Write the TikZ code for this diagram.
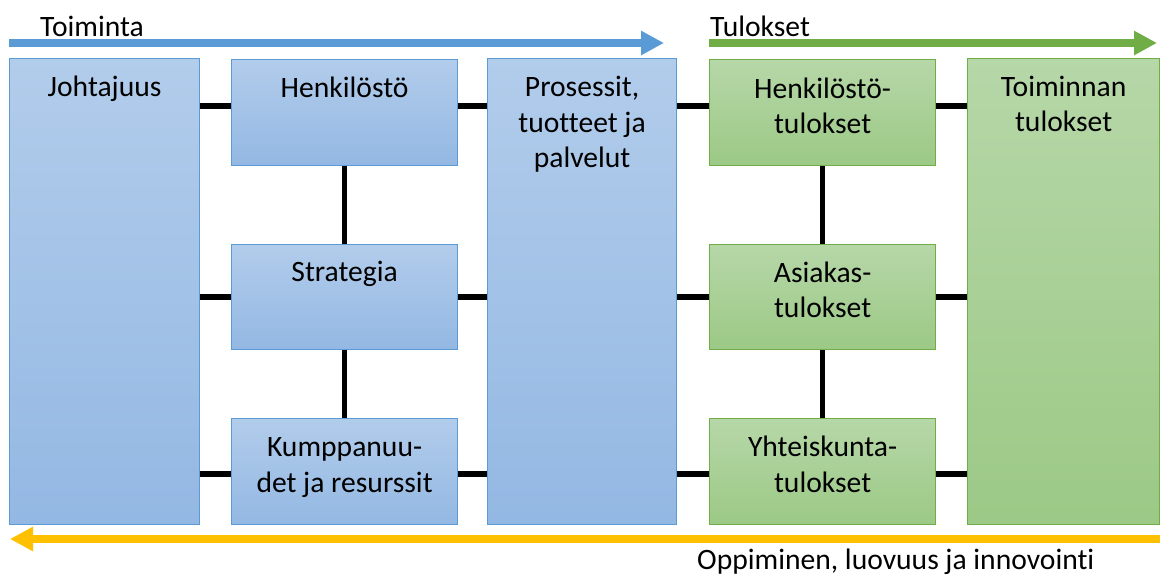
\documentclass[tikz,border=0pt]{standalone}
\usepackage{fontspec}
\setmainfont{Carlito}[Ligatures=CommonOff]
\usetikzlibrary{arrows.meta}
\definecolor{blueTop}{RGB}{178,204,235}
\definecolor{blueBot}{RGB}{147,184,227}
\definecolor{blueLine}{RGB}{91,155,213}
\definecolor{greenTop}{RGB}{182,215,168}
\definecolor{greenBot}{RGB}{156,201,134}
\definecolor{greenLine}{RGB}{112,173,71}
\definecolor{flowOrange}{RGB}{255,192,0}
\begin{document}
\begin{tikzpicture}[x=1pt,y=-1pt,
    bbox/.style={draw=blueLine,line width=1.2pt,top color=blueTop,bottom color=blueBot,anchor=north west,inner sep=0pt},
    gbox/.style={draw=greenLine,line width=1.2pt,top color=greenTop,bottom color=greenBot,anchor=north west,inner sep=0pt},
    lbl/.style={font=\fontsize{29.6}{35.5}\selectfont,align=center,anchor=base,inner sep=0pt},
    link/.style={line width=5.5pt,black},
    flow/.style={line width=8pt,-{Triangle[length=23pt,width=23pt]}}]
  \useasboundingbox (0,0) rectangle (1160,577);
  % arrows
  \coordinate (toiS) at (9,43);   \coordinate (toiE) at (664,43);
  \coordinate (tulS) at (709,43); \coordinate (tulE) at (1157,43);
  \coordinate (oppS) at (1162,539); \coordinate (oppE) at (10,539);
  \draw[flow,blueLine] (toiS) -- (toiE);
  \draw[flow,greenLine] (tulS) -- (tulE);
  \draw[flow,flowOrange] (oppS) -- (oppE);
  \node[lbl,anchor=base west] (toiT) at (40,37) {Toiminta};
  \node[lbl,anchor=base west] (tulT) at (710,37) {Tulokset};
  \node[lbl,anchor=base west] (oppT) at (697,569.5) {Oppiminen, luovuus ja innovointi};
  % boxes
  \node[bbox,minimum width=190pt,minimum height=466pt] (joh) at (9,58) {};
  \node[bbox,minimum width=226pt,minimum height=106pt] (hen) at (231,59) {};
  \node[bbox,minimum width=226pt,minimum height=105pt] (str) at (231,244) {};
  \node[bbox,minimum width=226pt,minimum height=106pt] (kum) at (231,418) {};
  \node[bbox,minimum width=189pt,minimum height=466pt] (pro) at (487,58) {};
  \node[gbox,minimum width=226pt,minimum height=106pt] (htu) at (709,59) {};
  \node[gbox,minimum width=226pt,minimum height=105pt] (asi) at (709,244) {};
  \node[gbox,minimum width=226pt,minimum height=106pt] (yht) at (709,418) {};
  \node[gbox,minimum width=192pt,minimum height=466pt] (toi) at (967,58) {};
  % links
  \foreach \y/\p/\q in {106/hen/htu,297/str/asi,474/kum/yht}{
    \coordinate (row) at (0,\y);
    \draw[link] (joh.east |- row) -- (\p.west |- row)
                (\p.east |- row) -- (pro.west |- row)
                (pro.east |- row) -- (\q.west |- row)
                (\q.east |- row) -- (toi.west |- row);
  }
  \draw[link] (hen.south) -- (str.north) (str.south) -- (kum.north);
  \draw[link] (htu.south) -- (asi.north) (asi.south) -- (yht.north);
  % texts (anchor=base is the last line)
  \node[lbl] (johT) at ([yshift=-39pt]joh.north) {Johtajuus};
  \node[lbl] (henT) at ([yshift=-39pt]hen.north) {Henkilöstö};
  \node[lbl] (strT) at ([yshift=-38pt]str.north) {Strategia};
  \node[lbl] (kumT) at ([yshift=-74pt]kum.north) {Kumppanuu-\\det ja resurssit};
  \node[lbl] (proT) at ([yshift=-110pt]pro.north) {Prosessit,\\tuotteet ja\\palvelut};
  \node[lbl] (htuT) at ([yshift=-75pt]htu.north) {Henkilöstö-\\tulokset};
  \node[lbl] (asiT) at ([yshift=-74pt]asi.north) {Asiakas-\\tulokset};
  \node[lbl] (yhtT) at ([yshift=-74pt]yht.north) {Yhteiskunta-\\tulokset};
  \node[lbl] (toiT2) at ([yshift=-74pt]toi.north) {Toiminnan\\tulokset};
\end{tikzpicture}
\end{document}
